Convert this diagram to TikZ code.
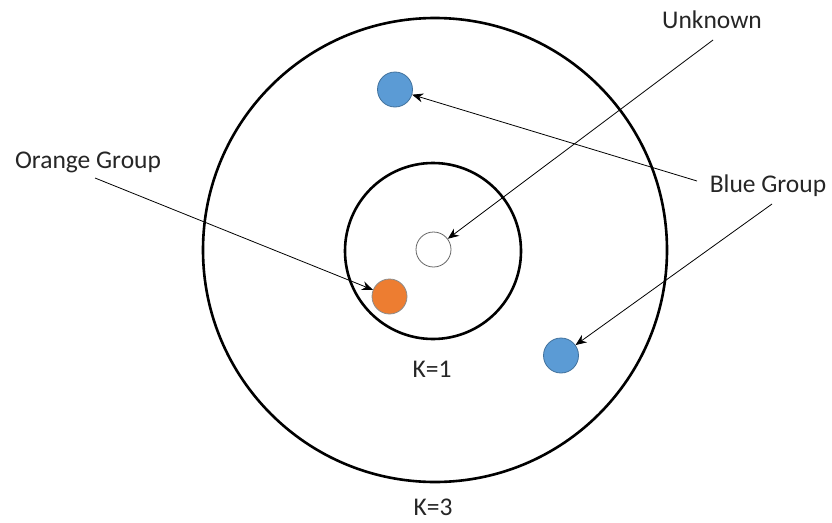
\documentclass[tikz,border=0pt]{standalone}
\usepackage{fontspec}
\setmainfont{Carlito}
\usetikzlibrary{arrows.meta}
\definecolor{offblue}{HTML}{5B9BD5}
\definecolor{offblueline}{HTML}{41719C}
\definecolor{offorange}{HTML}{ED7D31}
\definecolor{offorangeline}{HTML}{AE5A21}
\tikzset{
  ring/.style={draw=black, line width=2.6pt},
  dot/.style={circle, minimum size=35pt, inner sep=0pt, line width=0.8pt},
  lbl/.style={font=\fontsize{25.5}{30}\selectfont, text=black!85, anchor=base, inner sep=0pt},
  pointer/.style={draw=black, line width=0.8pt, -{Stealth[length=11pt,width=9pt]}}
}
\begin{document}
\begin{tikzpicture}[x=1pt,y=-1pt]
\useasboundingbox (0,0) rectangle (832,522);
\fill[white] (0,0) rectangle (832,522);
% rings
\draw[ring] (435,250) circle (232);
\draw[ring] (433,251) circle (88);
% dots
\node[dot, draw=black!60, fill=white] (unk) at (433.5,249.5) {};
\node[dot, draw=offblueline, fill=offblue] (b1) at (395,89.5) {};
\node[dot, draw=offblueline, fill=offblue] (b2) at (561,355.5) {};
\node[dot, draw=black!45, fill=offorange] (or) at (389.5,296.5) {};
% labels
\node[lbl] (tunk) at (712,28) {Unknown};
\node[lbl] (tblue) at (768,192) {Blue Group};
\node[lbl] (torange) at (88,168) {Orange Group};
\node[lbl] (k1) at (432,377) {K=1};
\node[lbl] (k3) at (433,515) {K=3};
% arrow starts
\coordinate (sunk) at (713,40);
\coordinate (sb1) at (697,181);
\coordinate (sb2) at (772,204);
\coordinate (sor) at (95,178);
\draw[pointer] (sunk) -- (unk);
\draw[pointer] (sb1) -- (b1);
\draw[pointer] (sb2) -- (b2);
\draw[pointer] (sor) -- (or);
\end{tikzpicture}
\end{document}
